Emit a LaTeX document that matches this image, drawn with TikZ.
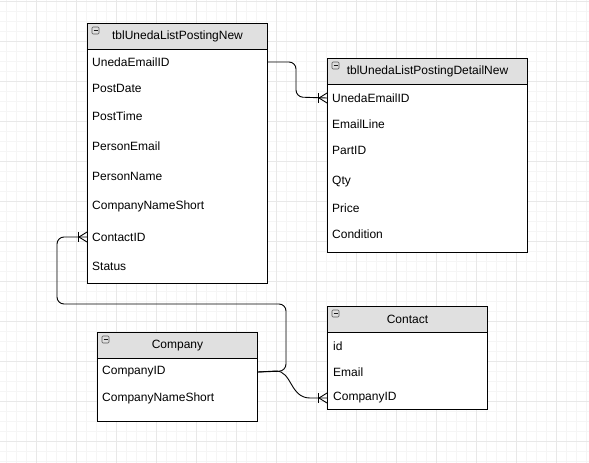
\documentclass[tikz,border=0pt]{standalone}
\usepackage{fontspec}
\setmainfont{Liberation Sans}
\begin{document}
\begin{tikzpicture}[x=1pt,y=-1pt,
  tblbox/.style={draw=black,line width=1pt,fill=white,anchor=north west,inner sep=0pt},
  hdr/.style={draw=black,line width=1pt,fill=hdrgray,anchor=north west,inner sep=0pt,minimum height=26pt,font=\fontsize{12pt}{14pt}\selectfont},
  rowtxt/.style={anchor=west,inner sep=0pt,font=\fontsize{12pt}{14pt}\selectfont},
  conn/.style={draw=black,line width=0.9pt,rounded corners=7pt},
  crow/.pic={\draw[line width=0.9pt] (-9,-5)--(-9,5); \draw[line width=0.9pt] (0,-5)--(-8,0)--(0,5);},
  minusbox/.pic={\draw[draw=gray!70!black,fill=gray!25,line width=0.6pt,rounded corners=1pt] (-3.5,-3.5) rectangle (3.5,3.5); \draw[line width=0.8pt,gray!20!black] (-2,0)--(2,0);}
]
\definecolor{hdrgray}{HTML}{E0E0E0}
\useasboundingbox (0,0) rectangle (589,463);
% grid
\foreach \i in {0,...,58} {\draw[black!4,line width=0.6pt] ({6.7+10*\i},0)--({6.7+10*\i},463);}
\foreach \i in {0,...,46} {\draw[black!4,line width=0.6pt] (0,{1.7+10*\i})--(589,{1.7+10*\i});}
\foreach \i in {0,...,14} {\draw[black!9,line width=0.6pt] ({36.7+40*\i},0)--({36.7+40*\i},463);}
\foreach \i in {0,...,11} {\draw[black!9,line width=0.6pt] (0,{1.7+40*\i})--(589,{1.7+40*\i});}

% Table 1
\node[tblbox,minimum width=180pt,minimum height=260pt] (t1) at (87,23) {};
\node[hdr,minimum width=180pt] (t1h) at (87,23) {tblUnedaListPostingNew};
\pic at (95.5,30.5) {minusbox};
\node[rowtxt] (t1a) at (92,62) {UnedaEmailID};
\node[rowtxt] (t1b) at (92,88) {PostDate};
\node[rowtxt] (t1c) at (92,116) {PostTime};
\node[rowtxt] (t1d) at (92,146) {PersonEmail};
\node[rowtxt] (t1e) at (92,176) {PersonName};
\node[rowtxt] (t1f) at (92,206) {CompanyNameShort};
\node[rowtxt] (t1g) at (92,237) {ContactID};
\node[rowtxt] (t1i) at (92,266) {Status};

% Table 2
\node[tblbox,minimum width=200pt,minimum height=194pt] (t2) at (327,58) {};
\node[hdr,minimum width=200pt] (t2h) at (327,58) {tblUnedaListPostingDetailNew};
\pic at (335.5,65.5) {minusbox};
\node[rowtxt] (t2a) at (332,98) {UnedaEmailID};
\node[rowtxt] (t2b) at (332,124) {EmailLine};
\node[rowtxt] (t2c) at (332,150) {PartID};
\node[rowtxt] (t2d) at (332,182) {Qty};
\node[rowtxt] (t2e) at (332,208) {Price};
\node[rowtxt] (t2f) at (332,234) {Condition};

% Company
\node[tblbox,minimum width=160pt,minimum height=89pt] (t3) at (97,332) {};
\node[hdr,minimum width=160pt] (t3h) at (97,332) {Company};
\pic at (105.5,339.5) {minusbox};
\node[rowtxt] (t3a) at (102,372) {CompanyID};
\node[rowtxt] (t3b) at (102,398) {CompanyNameShort};

% Contact
\node[tblbox,minimum width=160pt,minimum height=103pt] (t4) at (327,306) {};
\node[hdr,minimum width=160pt] (t4h) at (327,306) {Contact};
\pic at (335.5,313.5) {minusbox};
\node[rowtxt] (t4a) at (333,346) {id};
\node[rowtxt] (t4b) at (333,372) {Email};
\node[rowtxt] (t4c) at (333,398) {CompanyID};

% connectors
\coordinate (c1s) at (t1.east |- t1a);
\coordinate (c1e) at (t2.west |- t2a);
\draw[conn] (c1s) -- (296,62) -- (296,97) -- (c1e);
\pic at (c1e) {crow};

\coordinate (c2s) at (t1.west |- t1g);
\coordinate (c2e) at (t3.east |- t3a);
\draw[conn] (c2s) -- (57,237) -- (57,304) -- (286,304) -- (286,371) -- (c2e);
\pic at (c2s) {crow};

\coordinate (c3e) at (t4.west |- t4c);
\draw[line width=0.9pt] (c2e) -- (276,371) .. controls (292,371) and (290,398) .. (310,398) -- (c3e);
\pic at (c3e) {crow};
\end{tikzpicture}
\end{document}
